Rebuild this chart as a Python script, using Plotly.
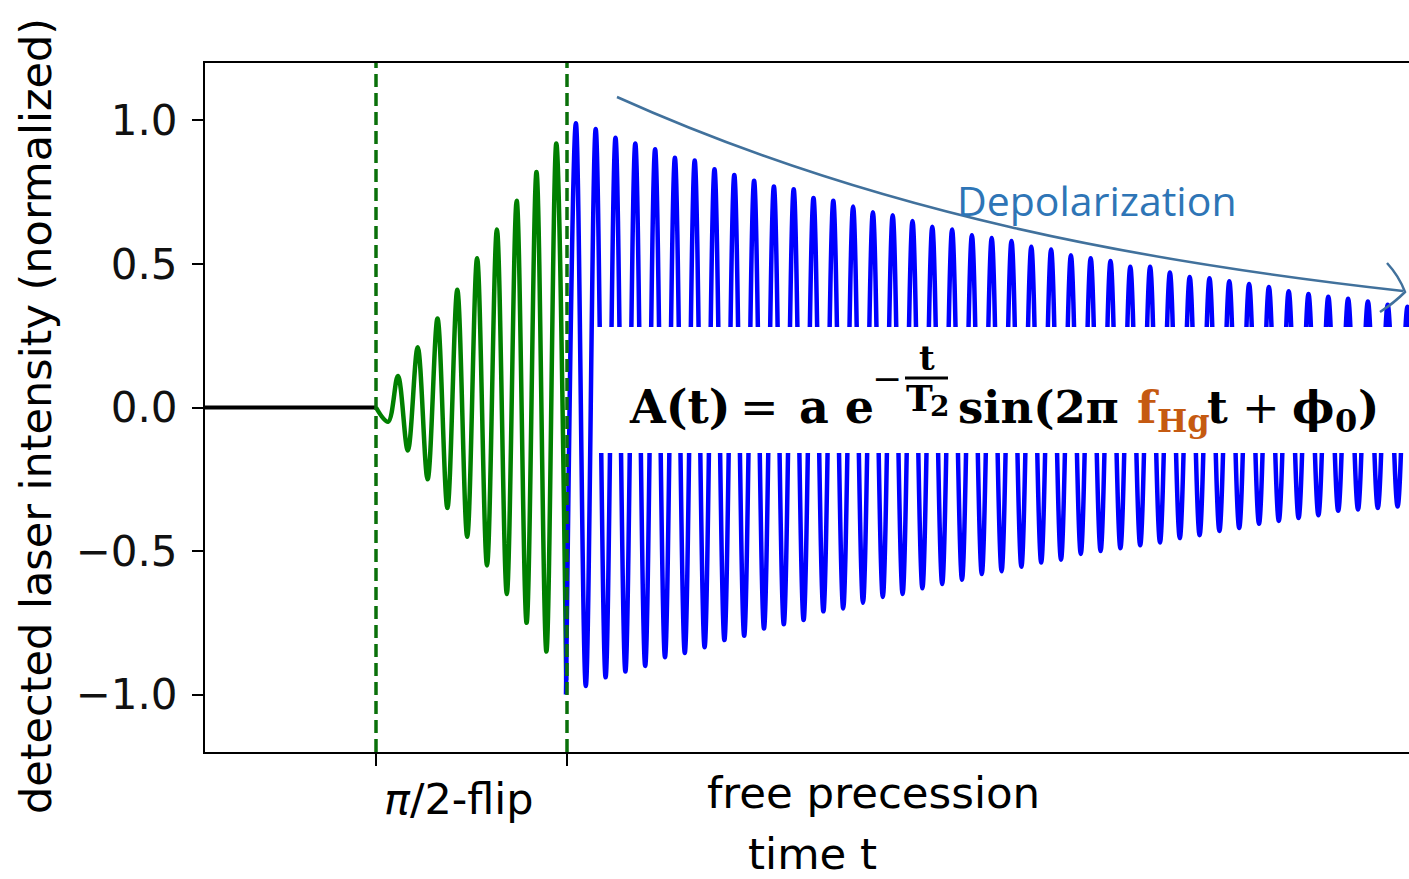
import plotly.graph_objects as go

# ---- signal data -------------------------------------------------------
# time axis in arbitrary units; the two markers bound the pi/2 flip pulse
T_FLIP_START = 171
T_FLIP_END = 362
HALF_PERIOD = 9.9          # half a precession period
FLIP_PHASE = 12            # delay of the first extremum after the flip starts
T_RANGE = [0, 1204]
Y_RANGE = [-1.2, 1.2]

baseline_t = [0, T_FLIP_START]
baseline_v = [0.0, 0.0]

# successive extrema (trough, peak, trough, ...) while the spin is flipped
flip_extrema = [-0.05, 0.11, -0.15, 0.21, -0.25, 0.31, -0.35, 0.41, -0.45, 0.52,
                -0.55, 0.62, -0.65, 0.72, -0.75, 0.82, -0.85, 0.92, -0.95]

# maxima and minima of the freely precessing signal
precession_peaks = [0.99, 0.97, 0.94, 0.92, 0.90, 0.87, 0.86, 0.83, 0.81, 0.79,
                    0.77, 0.76, 0.73, 0.72, 0.70, 0.68, 0.67, 0.65, 0.63, 0.62,
                    0.60, 0.59, 0.58, 0.56, 0.55, 0.53, 0.52, 0.51, 0.49, 0.49,
                    0.47, 0.455, 0.45, 0.44, 0.43, 0.42, 0.405, 0.395, 0.386, 0.379,
                    0.369, 0.358, 0.351]
precession_troughs = [-1.00, -0.97, -0.94, -0.92, -0.90, -0.87, -0.855, -0.835, -0.81, -0.795,
                      -0.77, -0.755, -0.74, -0.71, -0.70, -0.68, -0.66, -0.65, -0.63, -0.615,
                      -0.60, -0.58, -0.57, -0.555, -0.54, -0.53, -0.51, -0.50, -0.49, -0.48,
                      -0.47, -0.455, -0.445, -0.43, -0.42, -0.405, -0.395, -0.385, -0.375, -0.36,
                      -0.355, -0.35, -0.345, -0.34]

y_ticks = [-1.0, -0.5, 0.0, 0.5, 1.0]
y_tick_labels = ["\u22121.0", "\u22120.5", "0.0", "0.5", "1.0"]

# ---- assemble the curves ----------------------------------------------
flip_t = [T_FLIP_START] + [T_FLIP_START + FLIP_PHASE + HALF_PERIOD * k
                           for k in range(len(flip_extrema))]
flip_v = [0.0] + flip_extrema

prec_v = []
for i, trough in enumerate(precession_troughs):
    prec_v.append(trough)
    if i < len(precession_peaks):
        prec_v.append(precession_peaks[i])
prec_t = [T_FLIP_END - 1 + HALF_PERIOD * k for k in range(len(prec_v))]

# ---- page geometry (pixels) -------------------------------------------
W, H = 1409, 879
L, R, T, B = 205, 1409, 63, 752


def px(x):
    return (x - L) / (R - L)


def py(y):
    return (B - y) / (B - T)


fig = go.Figure()
fig.add_trace(go.Scatter(x=baseline_t, y=baseline_v, mode="lines",
                         line=dict(color="black", width=4), hoverinfo="skip"))
fig.add_trace(go.Scatter(x=flip_t, y=flip_v, mode="lines",
                         line=dict(color="#008000", width=4.5, shape="spline", smoothing=1),
                         hoverinfo="skip"))
fig.add_trace(go.Scatter(x=prec_t, y=prec_v, mode="lines",
                         line=dict(color="#0000FF", width=4.5, shape="spline", smoothing=1),
                         hoverinfo="skip"))
for tm in (T_FLIP_START, T_FLIP_END):
    fig.add_trace(go.Scatter(x=[tm, tm], y=Y_RANGE, mode="lines",
                             line=dict(color="#0A700A", width=3.5, dash="13px,6px"),
                             hoverinfo="skip"))

# white panel carrying the signal model
fig.add_shape(type="rect", xref="paper", yref="paper",
              x0=px(597), x1=px(1420), y0=py(453), y1=py(327),
              fillcolor="white", line=dict(width=0), layer="above")
# fraction bar of the exponent
fig.add_shape(type="line", xref="paper", yref="paper",
              x0=px(905), x1=px(948), y0=py(378), y1=py(378),
              line=dict(color="black", width=3), layer="above")

# curved "Depolarization" arrow
def pt(x, y):
    return f"{px(x):.5f},{py(y):.5f}"


arrow_col = "#41719C"
fig.add_shape(type="path", xref="paper", yref="paper",
              path=f"M {pt(617, 97)} C {pt(877, 214)} {pt(1143, 262)} {pt(1403, 291)}",
              line=dict(color=arrow_col, width=2.5), layer="above")
fig.add_shape(type="path", xref="paper", yref="paper",
              path=f"M {pt(1387, 263)} Q {pt(1399, 276)} {pt(1405, 292)} Q {pt(1394, 303)} {pt(1380, 312)}",
              line=dict(color=arrow_col, width=2.5), layer="above")

ann = []


def text(x, y, s, size, color="black", family="DejaVu Serif", xanchor="left", angle=0):
    ann.append(dict(x=px(x), y=py(y), xref="paper", yref="paper", text=s,
                    showarrow=False, xanchor=xanchor, yanchor="middle", textangle=angle,
                    font=dict(family=family, size=size, color=color)))


brown = "#C55A11"
text(627, 407, "<b>A(t)</b>", 46)
text(738, 407, "=", 46)
text(797, 407, "<b>a e</b>", 46)
text(870, 378, "\u2212", 36)
text(927, 358, "<b>t</b>", 34, xanchor="center")
text(904, 398, "<b>T</b>", 36)
text(928, 406, "<b>2</b>", 28)
text(956, 407, "<b>sin(2\u03c0</b>", 45)
text(1135, 407, "<b>f</b>", 45, color=brown)
text(1155, 421, "<b>Hg</b>", 32, color=brown)
text(1205, 407, "<b>t</b>", 45)
text(1240, 407, "+", 45)
text(1290, 407, "<b>\u03d5</b>", 45)
text(1333, 421, "<b>0</b>", 32)
text(1356, 407, "<b>)</b>", 45)

text(955, 200, "Depolarization", 41, color="#2E75B6", family="Open Sans")

sans = "DejaVu Sans"
text(459, 799, "<i>\u03c0</i>/2-flip", 43, family=sans, xanchor="center")
text(873, 793, "free precession", 43.5, family=sans, xanchor="center")
text(812, 854, "time t", 43.5, family=sans, xanchor="center")
text(36, 416, "detected laser intensity (normalized)", 43, family=sans,
     xanchor="center", angle=-90)

fig.update_layout(
    width=W, height=H,
    margin=dict(l=L, r=W - R, t=T, b=H - B, pad=0),
    paper_bgcolor="white", plot_bgcolor="white",
    showlegend=False,
    annotations=ann,
    xaxis=dict(range=T_RANGE, showgrid=False, zeroline=False,
               showline=True, linecolor="black", linewidth=2, mirror=True,
               tickmode="array", tickvals=[T_FLIP_START, T_FLIP_END], ticktext=["", ""],
               ticks="outside", ticklen=12, tickwidth=2, tickcolor="black"),
    yaxis=dict(range=Y_RANGE, showgrid=False, zeroline=False,
               showline=True, linecolor="black", linewidth=2, mirror=False,
               tickmode="array", tickvals=y_ticks, ticktext=y_tick_labels,
               ticks="outside", ticklen=11, tickwidth=2, tickcolor="black",
               ticklabelstandoff=6,
               tickfont=dict(family=sans, size=42, color="#111111")),
)

fig.write_html("out.html")
